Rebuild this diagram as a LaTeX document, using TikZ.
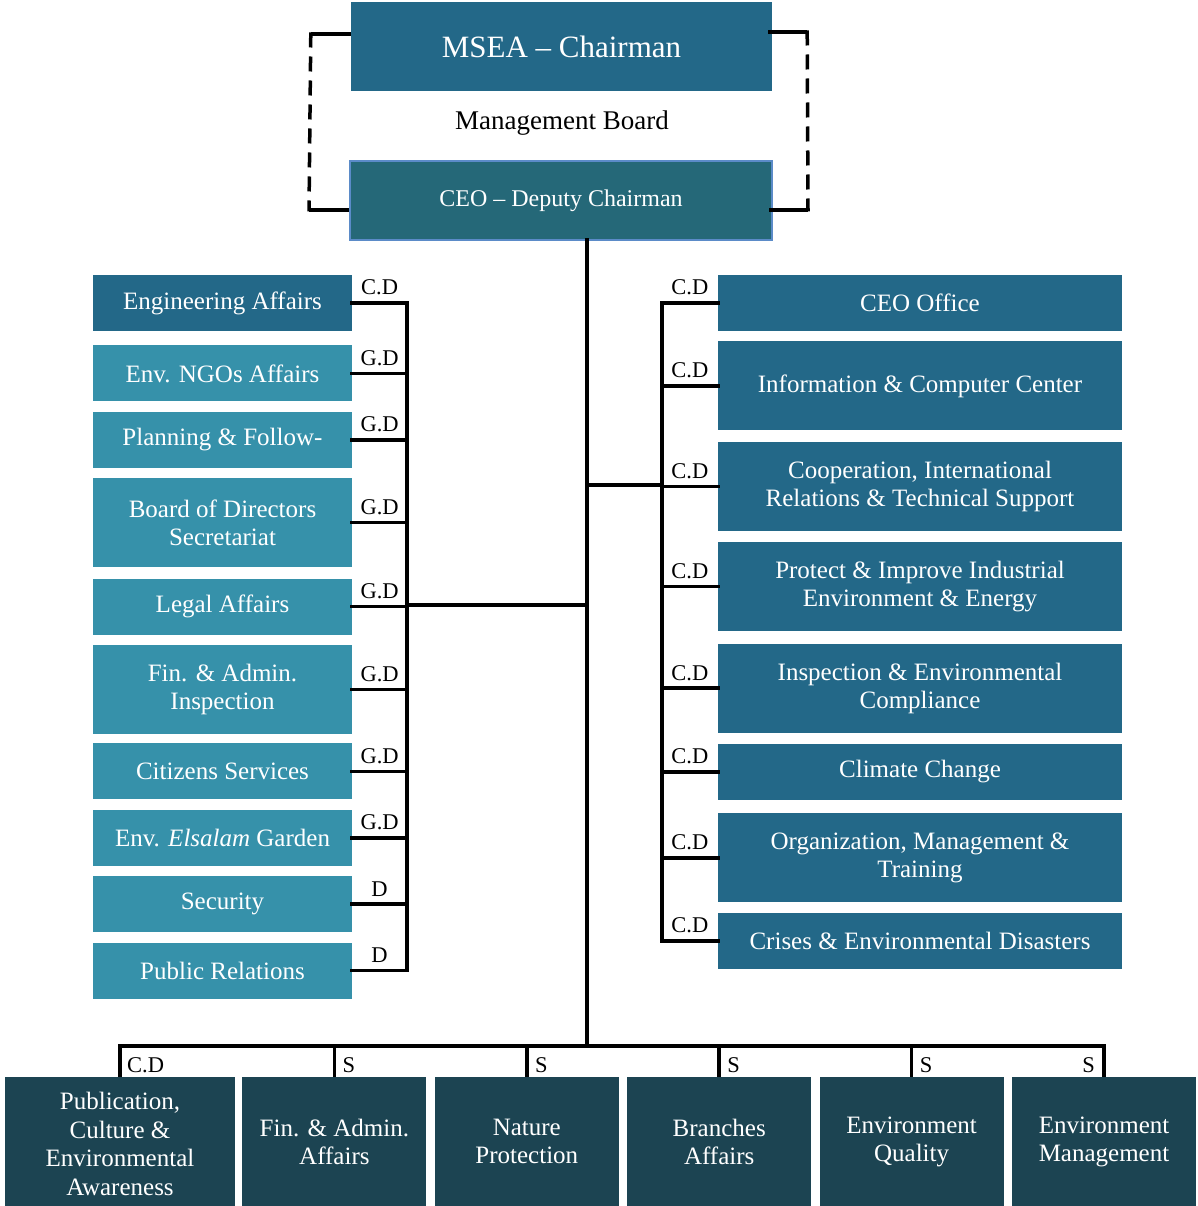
\documentclass[tikz,border=0pt]{standalone}
\usepackage{fontspec}
\setmainfont{Liberation Serif}
\usetikzlibrary{positioning}
\definecolor{chairblue}{HTML}{236888}
\definecolor{ceoteal}{HTML}{256878}
\definecolor{ceoedge}{HTML}{5B8BC8}
\definecolor{sectlight}{HTML}{3691AA}
\definecolor{unitdark}{HTML}{1C4452}
\newcommand{\boxfont}{\fontsize{25}{28}\selectfont}
\newcommand{\tagfont}{\fontsize{22.5}{25}\selectfont}
\tikzset{
  orgbox/.style={fill=#1, text=white, align=center, inner sep=0pt, font=\boxfont},
  lsect/.style={orgbox=sectlight, minimum width=259pt, minimum height=56pt},
  rsect/.style={orgbox=chairblue, minimum width=404pt, minimum height=56pt},
  bunit/.style={orgbox=unitdark, minimum width=184pt, minimum height=129pt},
  tall/.style={minimum height=89pt},
  link/.style={draw=black, line width=3.5pt, line cap=rect},
  bracket/.style={link, line cap=butt, dash pattern=on 15pt off 9pt},
  tag/.style={font=\tagfont, inner sep=1pt},
}

\begin{document}
\begin{tikzpicture}[x=1pt,y=-1pt]
  \useasboundingbox (0,0) rectangle (1197,1206);
  % board
  \node[orgbox=chairblue, minimum width=421pt, minimum height=89pt, font=\fontsize{31}{35}\selectfont] (msea) at (561.5,46.5) {MSEA – Chairman};
  \node[font=\fontsize{27}{30}\selectfont] (board) at (562,123) {Management Board};
  \node[orgbox=ceoteal, draw=ceoedge, line width=2pt, minimum width=422pt, minimum height=79pt, font=\fontsize{24}{27}\selectfont] (ceo) at (561,200.5) {CEO – Deputy Chairman};
  % left column
  \node[lsect, fill=chairblue] (eng) at (222.5,303) {Engineering Affairs};
  \node[lsect, below=14pt of eng] (ngo) {Env. NGOs Affairs};
  \node[lsect, below=10pt of ngo] (plan) {Planning \& Follow-};
  \node[lsect, tall, below=10pt of plan] (bod) {Board of Directors\\Secretariat};
  \node[lsect, below=11pt of bod] (legal) {Legal Affairs};
  \node[lsect, tall, below=10pt of legal] (fina) {Fin. \& Admin.\\Inspection};
  \node[lsect, below=9pt of fina] (citz) {Citizens Services};
  \node[lsect, below=10pt of citz] (garden) {Env. \textit{Elsalam} Garden};
  \node[lsect, below=10pt of garden] (secu) {Security};
  \node[lsect, below=10pt of secu] (pubrel) {Public Relations};
  % right column
  \node[rsect] (ceooff) at (920,303) {CEO Office};
  \node[rsect, tall, below=10pt of ceooff] (icc) {Information \& Computer Center};
  \node[rsect, tall, below=11pt of icc] (coop) {Cooperation, International\\Relations \& Technical Support};
  \node[rsect, tall, below=11pt of coop] (indus) {Protect \& Improve Industrial\\Environment \& Energy};
  \node[rsect, tall, below=12pt of indus] (insp) {Inspection \& Environmental\\Compliance};
  \node[rsect, below=11pt of insp] (clim) {Climate Change};
  \node[rsect, tall, below=13pt of clim] (orgm) {Organization, Management \&\\Training};
  \node[rsect, below=10pt of orgm] (crisis) {Crises \& Environmental Disasters};
  % bottom row
  \node[bunit, minimum width=230pt, minimum height=134pt, font=\fontsize{25}{28.5}\selectfont] (publ) at (120,1144) {Publication,\\Culture \&\\Environmental\\Awareness};
  \node[bunit, right=7pt of publ, yshift=2.5pt] (finaf) {Fin. \& Admin.\\Affairs};
  \node[bunit, right=8pt of finaf] (natp) {Nature\\Protection};
  \node[bunit, right=8pt of natp] (branch) {Branches\\Affairs};
  \node[bunit, right=8pt of branch] (envq) {Environment\\Quality};
  \node[bunit, right=8pt of envq] (envm) {Environment\\Management};

  % board bracket
  \draw[link, line cap=butt] ([yshift=12.5pt]msea.west) -- ++(-40,0) coordinate (tl);
  \draw[link, line cap=butt] ([yshift=-9.5pt]ceo.west) -- ++(-40,0) coordinate (bl);
  \draw[bracket] ([yshift=1.5pt]tl) -- ([yshift=-1.5pt]bl);
  \draw[link, line cap=butt] ([yshift=14.5pt,xshift=-4pt]msea.east) -- ++(39,0) coordinate (tr);
  \draw[link, line cap=butt] ([yshift=-9.5pt,xshift=-4pt]ceo.east) -- ++(39,0) coordinate (br);
  \draw[bracket] ([yshift=1.5pt]tr) -- ([yshift=-1.5pt]br);

  % trunk and buses
  \coordinate (trunk) at (587,240);
  \coordinate (lbus) at (407,605);
  \coordinate (rbus) at (662,485);
  \coordinate (bbus) at (587,1046);
  \draw[link] (trunk) -- (bbus);
  \draw[link] (lbus) -- (lbus -| trunk);
  \draw[link] (rbus) -- (rbus -| trunk);
  \draw[link] (eng.east -| lbus) -- (pubrel.east -| lbus);
  \draw[link] (ceooff.west -| rbus) -- (crisis.west -| rbus);
  \foreach \n/\t in {eng/C.D, ngo/G.D, plan/G.D, bod/G.D, legal/G.D, fina/G.D, citz/G.D, garden/G.D, secu/D, pubrel/D}
    \draw[link] (\n.east) -- node[tag, above=5pt] (t\n) {\t} (\n.east -| lbus);
  \foreach \n in {ceooff, icc, coop, indus, insp, clim, orgm, crisis}
    \draw[link] (\n.west) -- node[tag, above=5pt] (t\n) {C.D} (\n.west -| rbus);

  % bottom bus
  \draw[link] (publ.north |- bbus) -- (envm.north |- bbus);
  \foreach \n in {publ, finaf, natp, branch, envq, envm}
    \draw[link, line cap=butt] (\n.north |- bbus) -- (\n.north);
  \node[tag, anchor=south west, xshift=6pt, yshift=3pt] (tpubl) at (publ.north) {C.D};
  \foreach \n in {finaf, natp, branch, envq}
    \node[tag, anchor=south west, xshift=7pt, yshift=3pt] (t\n) at (\n.north) {S};
  \node[tag, anchor=south east, xshift=-8pt, yshift=3pt] (tenvm) at (envm.north) {S};
\end{tikzpicture}
\end{document}
